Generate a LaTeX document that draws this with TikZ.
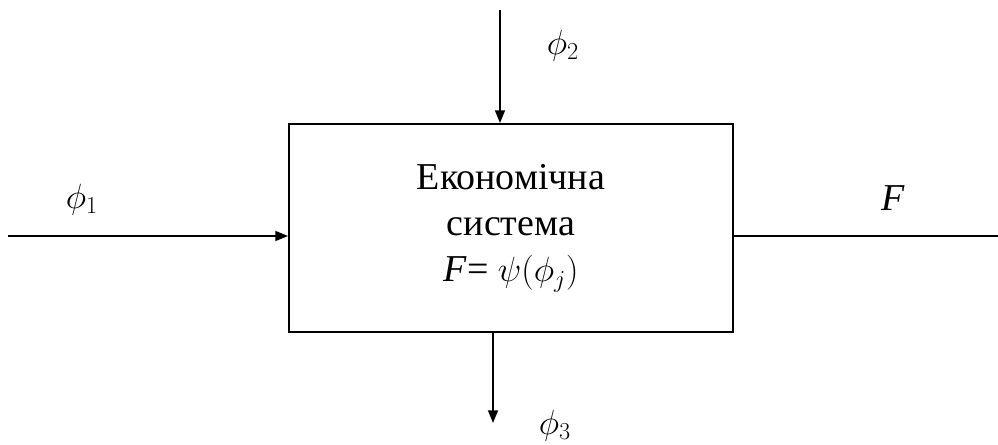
\documentclass[tikz,border=0pt]{standalone}
\usepackage{fontspec}
\setmainfont{Liberation Serif}
\usetikzlibrary{arrows.meta}
\tikzset{
  flow/.style={line width=1.3pt,-{Triangle[length=9pt,width=7pt]}},
  lbl/.style={font=\fontsize{27}{33}\selectfont}
}
\begin{document}
\begin{tikzpicture}[x=0.025cm,y=-0.025cm]
\useasboundingbox (0,0) rectangle (998,445);
\node[draw,line width=1.3pt,minimum width=11.1cm,minimum height=5.2cm,align=center,lbl] (sys) at (511,228)
  {Економічна\\ система\\ \textit{F}= \(\psi(\phi_j)\)};
\coordinate (in1) at (8,236);
\coordinate (in2) at (500,10);
\coordinate (out3) at (493,423);
\coordinate (outF) at (998,236);
\draw[flow] (in1) -- (sys.west |- in1);
\draw[flow] (in2) -- (in2 |- sys.north);
\draw[flow] (out3 |- sys.south) -- (out3);
\draw[line width=1.3pt] (sys.east |- outF) -- (outF);
\node[lbl] (phi1) at (82,200) {\(\phi_1\)};
\node[lbl] (phi2) at (563,46) {\(\phi_2\)};
\node[lbl] (phi3) at (555,426) {\(\phi_3\)};
\node[lbl] (fout) at (893,198) {\textit{F}};
\end{tikzpicture}
\end{document}
